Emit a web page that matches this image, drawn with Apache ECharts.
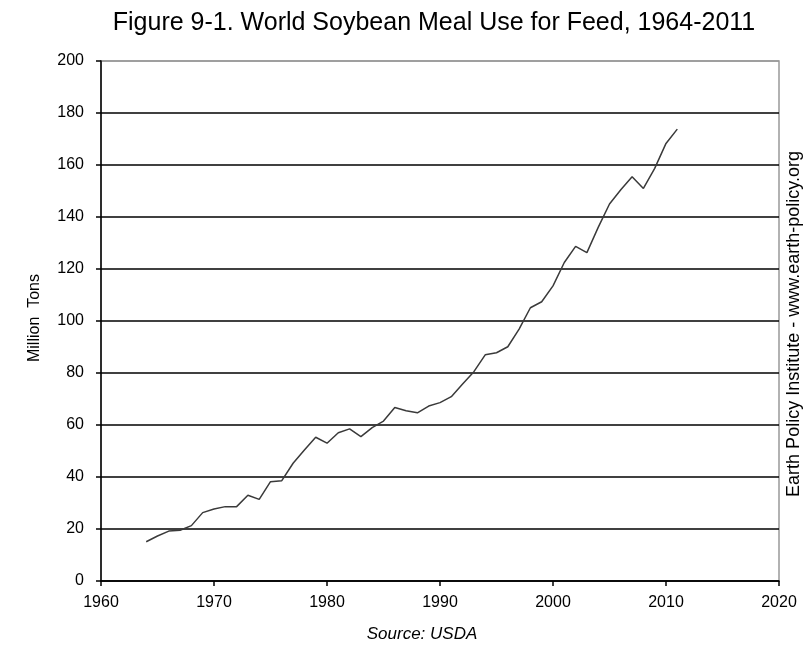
<!DOCTYPE html>
<html lang="en">
<head>
    <meta charset="UTF-8">
    <title>World Soybean Meal Use for Feed</title>
    <style>
        body { margin: 0; background: #fff; }
        #chart { width: 806px; height: 646px; }
    </style>
    <script src="https://cdn.jsdelivr.net/npm/echarts@6/dist/echarts.min.js"></script>
</head>
<body>
    <div id="chart"></div>
    <script>
        // million tons
        var years = [1964, 1965, 1966, 1967, 1968, 1969, 1970, 1971, 1972, 1973,
            1974, 1975, 1976, 1977, 1978, 1979, 1980, 1981, 1982, 1983,
            1984, 1985, 1986, 1987, 1988, 1989, 1990, 1991, 1992, 1993,
            1994, 1995, 1996, 1997, 1998, 1999, 2000, 2001, 2002, 2003,
            2004, 2005, 2006, 2007, 2008, 2009, 2010, 2011];
        var mealUse = [15.1, 17.3, 19.2, 19.5, 21.3, 26.3, 27.7, 28.6, 28.6, 33,
            31.4, 38.2, 38.6, 45.3, 50.4, 55.3, 53, 57, 58.5, 55.5,
            59, 61.5, 66.7, 65.5, 64.7, 67.3, 68.6, 70.9, 75.8, 80.5,
            87, 87.8, 90.1, 96.9, 105.1, 107.4, 113.5, 122.5, 128.7, 126.3,
            136, 145, 150.5, 155.5, 151, 158.7, 168.3, 173.8];

        var font = "'Liberation Sans', Arial, sans-serif";

        var chart = echarts.init(document.getElementById('chart'));

        var points = years.map(function (y, i) { return [y, mealUse[i]]; });

        // last split line (200) is the gray plot border, the others are black
        var splitColors = [];
        for (var i = 0; i < 10; i++) splitColors.push('#000');
        splitColors.push('#999');

        var option = {
            backgroundColor: '#fff',
            animation: false,
            grid: {
                left: 101,
                right: 27,
                top: 61,
                bottom: 65,
                show: true,
                borderColor: '#999',
                borderWidth: 1.5
            },
            xAxis: {
                type: 'value',
                min: 1960,
                max: 2020,
                interval: 10,
                axisLine: { show: true, lineStyle: { color: '#000', width: 1.5 } },
                axisTick: { show: true, length: 5, lineStyle: { color: '#000', width: 1.5 } },
                axisLabel: {
                    color: '#000', fontSize: 16, fontFamily: font, margin: 14,
                    formatter: function (v) { return String(v); }
                },
                splitLine: { show: false }
            },
            yAxis: {
                type: 'value',
                min: 0,
                max: 200,
                interval: 20,
                axisLine: { show: true, lineStyle: { color: '#000', width: 1.5 } },
                axisTick: { show: true, length: 5, lineStyle: { color: '#000', width: 1.5 } },
                axisLabel: { color: '#000', fontSize: 16, fontFamily: font, margin: 17 },
                splitLine: { show: true, lineStyle: { color: splitColors, width: 1.5 } }
            },
            series: [{
                type: 'line',
                data: points,
                showSymbol: false,
                symbol: 'none',
                lineStyle: { color: '#3a3a3a', width: 1.5 }
            }],
            graphic: [{
                type: 'text',
                x: 434, y: 23,
                style: {
                    text: 'Figure 9-1. World Soybean Meal Use for Feed, 1964-2011',
                    fill: '#000',
                    font: '25px ' + font,
                    textAlign: 'center',
                    textVerticalAlign: 'middle'
                }
            }, {
                type: 'text',
                x: 35, y: 318,
                rotation: Math.PI / 2,
                style: {
                    text: 'Million  Tons',
                    fill: '#000',
                    font: '16px ' + font,
                    textAlign: 'center',
                    textVerticalAlign: 'middle'
                }
            }, {
                type: 'text',
                x: 794, y: 324,
                rotation: Math.PI / 2,
                style: {
                    text: 'Earth Policy Institute - www.earth-policy.org',
                    fill: '#000',
                    font: '18px ' + font,
                    textAlign: 'center',
                    textVerticalAlign: 'middle'
                }
            }, {
                type: 'text',
                x: 422, y: 634,
                style: {
                    text: 'Source: USDA',
                    fill: '#000',
                    font: 'italic 17px ' + font,
                    textAlign: 'center',
                    textVerticalAlign: 'middle'
                }
            }]
        };
        chart.setOption(option);
    </script>
</body>
</html>
